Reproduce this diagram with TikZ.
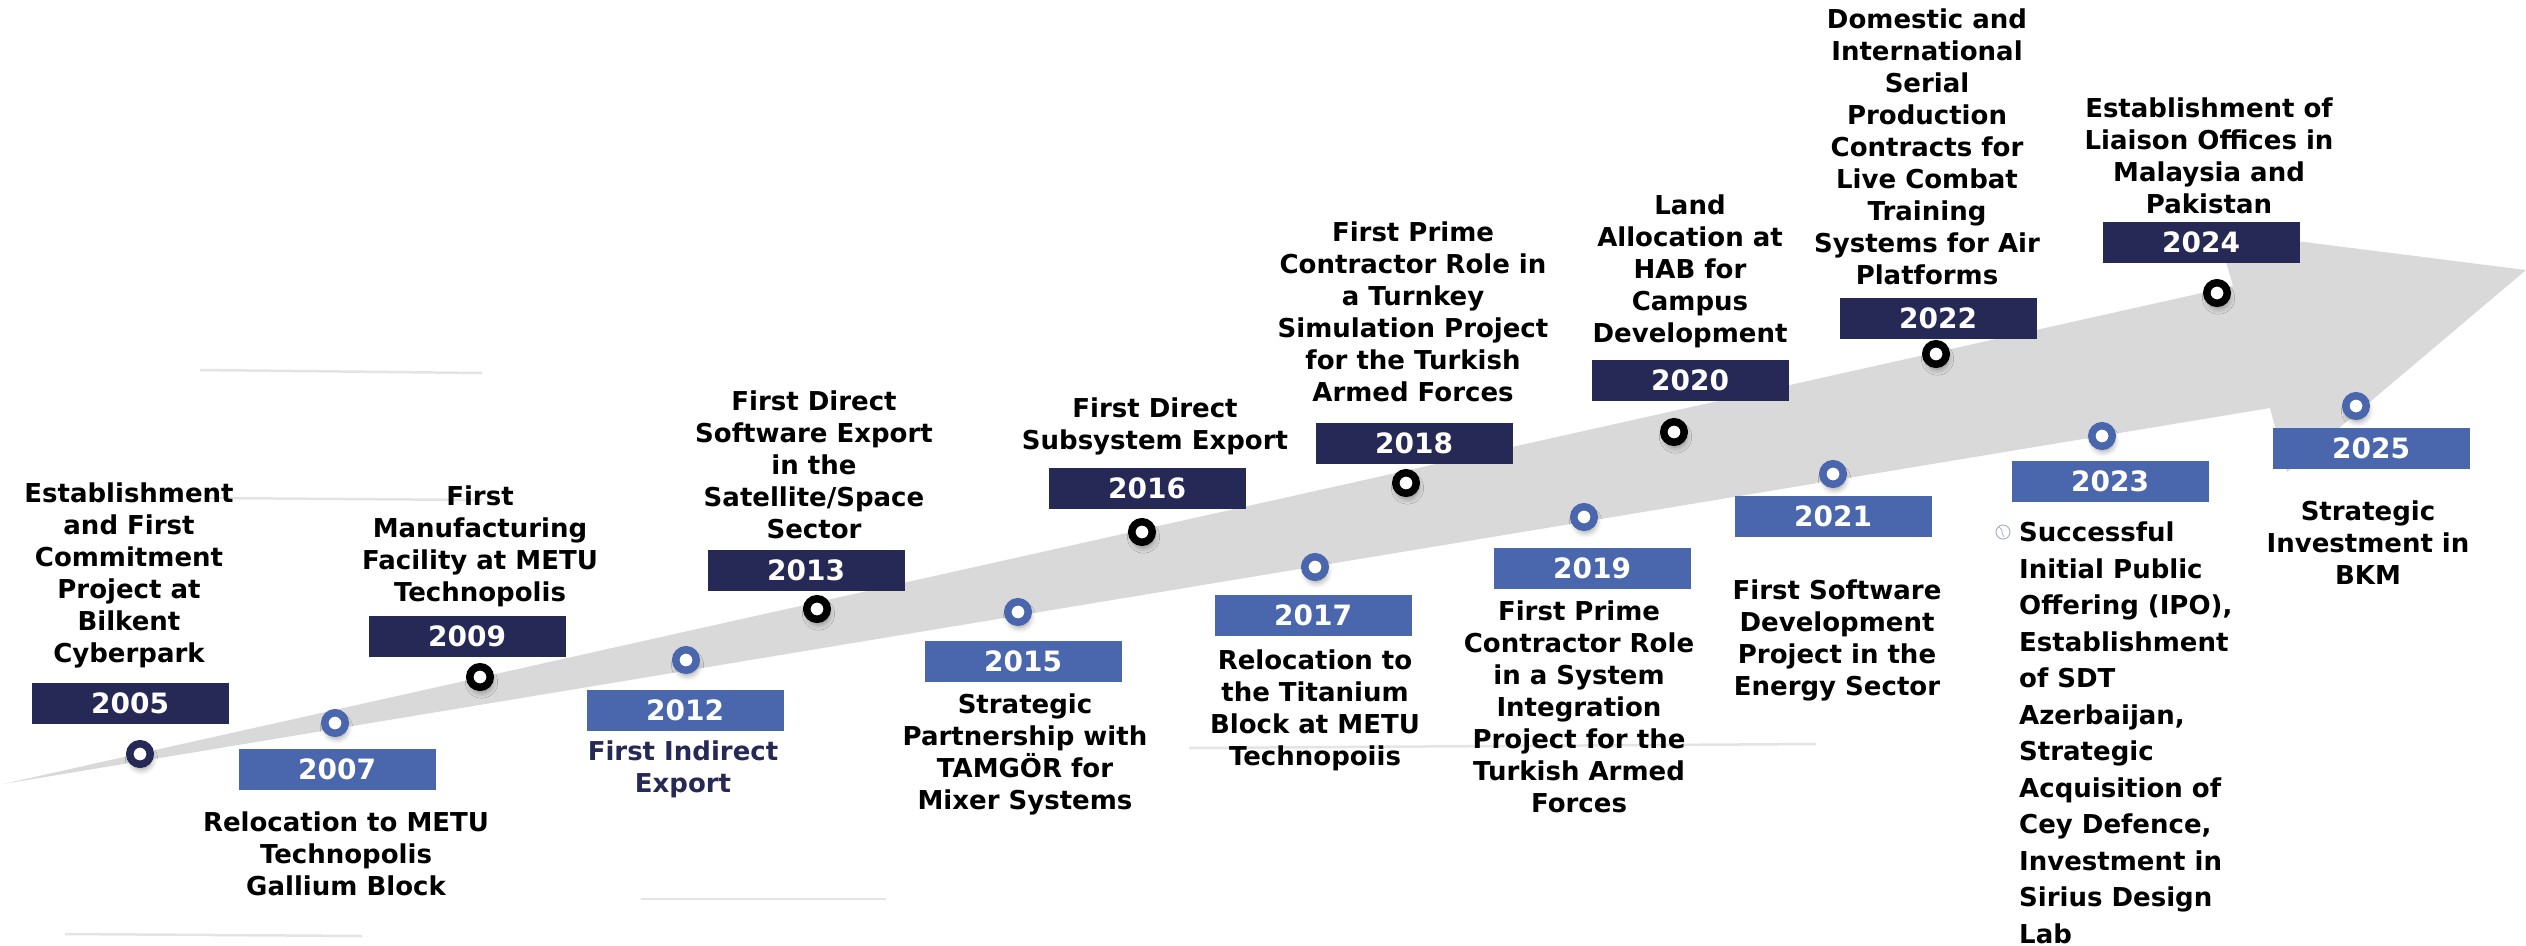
\documentclass[tikz,border=0pt]{standalone}
\usepackage{fontspec}
\setmainfont{DejaVu Sans}
\usetikzlibrary{shadows.blur}
\definecolor{navy}{HTML}{262855}
\definecolor{mblue}{HTML}{4A66AD}
\definecolor{band}{HTML}{D9D9D9}
\definecolor{faint}{HTML}{E4E4E4}
\definecolor{globec}{HTML}{A7B0C4}
\begin{document}
\begin{tikzpicture}[x=1pt,y=-1pt,
  lab/.style={align=center, inner sep=0pt, anchor=north, font=\bfseries\fontsize{26}{32}\selectfont},
  yearbox/.style={minimum width=197pt, minimum height=41pt, inner sep=0pt, text=white, font=\bfseries\fontsize{28}{30}\selectfont},
  navybox/.style={yearbox, fill=navy},
  bluebox/.style={yearbox, fill=mblue},
  ring/.style={circle, inner sep=0pt, minimum size=20.5pt, line width=7.5pt, fill=white,
    blur shadow={shadow xshift=1.5pt, shadow yshift=-5pt, shadow blur radius=6pt, shadow opacity=40}},
  blackring/.style={ring, draw=black},
  navyring/.style={ring, draw=navy},
  bluering/.style={ring, draw=mblue},
  faintline/.style={draw=faint, line width=2.5pt}
]
\useasboundingbox (0,0) rectangle (2526,945);

% arrow band
\fill[band] (3,784) -- (2233,286) -- (2217,231) -- (2526,270) -- (2287,472) -- (2270,408) -- cycle;

% faint lines
\draw[faintline] (200,370) -- (482,373);
\draw[faintline] (205,498) -- (482,500);
\draw[faintline] (65,934) -- (362,936);
\draw[faintline] (641,899) -- (886,899);
\draw[faintline] (1189,748) -- (1816,744);

% rings
\node[navyring]  (c05) at (140,754) {};
\node[bluering]  (c07) at (335,723) {};
\node[blackring] (c09) at (480,677) {};
\node[bluering]  (c12) at (686,660) {};
\node[blackring] (c13) at (817,609) {};
\node[bluering]  (c15) at (1018,612) {};
\node[blackring] (c16) at (1142,532) {};
\node[bluering]  (c17) at (1315,567) {};
\node[blackring] (c18) at (1406,483) {};
\node[bluering]  (c19) at (1584,517) {};
\node[blackring] (c20) at (1674,432) {};
\node[bluering]  (c21) at (1833,474) {};
\node[blackring] (c22) at (1936,354) {};
\node[bluering]  (c23) at (2102,436) {};
\node[blackring] (c24) at (2217,293) {};
\node[bluering]  (c25) at (2356,406) {};

% year boxes
\node[navybox] (b05) at (130,703) {2005};
\node[navybox] (b09) at (467,636) {2009};
\node[navybox] (b13) at (806,570) {2013};
\node[navybox] (b16) at (1147,488) {2016};
\node[navybox] (b18) at (1414,443) {2018};
\node[navybox] (b20) at (1690,380) {2020};
\node[navybox] (b22) at (1938,318) {2022};
\node[navybox] (b24) at (2201,242) {2024};
\node[bluebox] (b07) at (337,769) {2007};
\node[bluebox] (b12) at (685,710) {2012};
\node[bluebox] (b15) at (1023,661) {2015};
\node[bluebox] (b17) at (1313,615) {2017};
\node[bluebox] (b19) at (1592,568) {2019};
\node[bluebox] (b21) at (1833,516) {2021};
\node[bluebox] (b23) at (2110,481) {2023};
\node[bluebox] (b25) at (2371,448) {2025};

% labels above
\node[lab] (t05) at (129,483) {Establishment\\and First\\Commitment\\Project at\\Bilkent\\Cyberpark};
\node[lab] (t09) at (480,486) {First\\Manufacturing\\Facility at METU\\Technopolis};
\node[lab] (t13) at (814,391) {First Direct\\Software Export\\in the\\Satellite/Space\\Sector};
\node[lab] (t16) at (1155,398) {First Direct\\Subsystem Export};
\node[lab] (t18) at (1413,222) {First Prime\\Contractor Role in\\a Turnkey\\Simulation Project\\for the Turkish\\Armed Forces};
\node[lab] (t20) at (1690,195) {Land\\Allocation at\\HAB for\\Campus\\Development};
\node[lab] (t22) at (1927,9) {Domestic and\\International\\Serial\\Production\\Contracts for\\Live Combat\\Training\\Systems for Air\\Platforms};
\node[lab] (t24) at (2209,98) {Establishment of\\Liaison Offices in\\Malaysia and\\Pakistan};

% labels below
\node[lab] (t07) at (346,812) {Relocation to METU\\Technopolis\\Gallium Block};
\node[lab, text=navy] (t12) at (683,741) {First Indirect\\Export};
\node[lab] (t15) at (1025,694) {Strategic\\Partnership with\\TAMGÖR for\\Mixer Systems};
\node[lab] (t17) at (1315,650) {Relocation to\\the Titanium\\Block at METU\\Technopoiis};
\node[lab] (t19) at (1579,601) {First Prime\\Contractor Role\\in a System\\Integration\\Project for the\\Turkish Armed\\Forces};
\node[lab] (t21) at (1837,580) {First Software\\Development\\Project in the\\Energy Sector};
\node[lab, anchor=north west, align=left, font=\bfseries\fontsize{26}{36.5}\selectfont] (t23) at (2019,522) {Successful\\Initial Public\\Offering (IPO),\\Establishment\\of SDT\\Azerbaijan,\\Strategic\\Acquisition of\\Cey Defence,\\Investment in\\Sirius Design\\Lab};
\node[lab] (t25) at (2368,501) {Strategic\\Investment in\\BKM};

% small globe icon
\draw[globec, line width=1pt] (2003,532) circle (7);
\draw[globec, line width=0.8pt] (1999,527) .. controls (2003,529) and (2001,533) .. (2004,537);
\end{tikzpicture}
\end{document}
